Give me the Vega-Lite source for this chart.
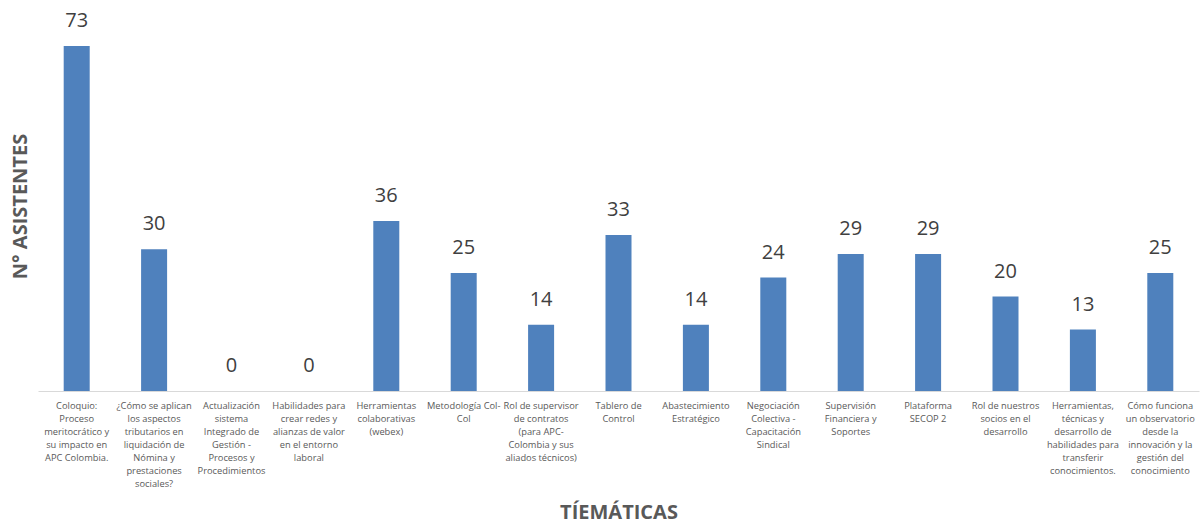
{
  "$schema": "https://vega.github.io/schema/vega-lite/v6.json",
  "width": 1161,
  "height": 378,
  "autosize": "none",
  "padding": {"left": 38, "top": 13, "right": 2, "bottom": 132},
  "background": "white",
  "config": {"view": {"stroke": null}, "font": "Open Sans"},
  "data": {
    "values": [
      {"tema": "Coloquio:|Proceso|meritocrático y|su impacto en|APC Colombia.", "asistentes": 73},
      {"tema": "¿Cómo se aplican|los aspectos|tributarios en|liquidación de|Nómina y|prestaciones|sociales?", "asistentes": 30},
      {"tema": "Actualización|sistema|Integrado de|Gestión -|Procesos y|Procedimientos", "asistentes": 0},
      {"tema": "Habilidades para|crear redes y|alianzas de valor|en el entorno|laboral", "asistentes": 0},
      {"tema": "Herramientas|colaborativas|(webex)", "asistentes": 36},
      {"tema": "Metodología Col-|Col", "asistentes": 25},
      {"tema": "Rol de supervisor|de contratos|(para APC-|Colombia y sus|aliados técnicos)", "asistentes": 14},
      {"tema": "Tablero de|Control", "asistentes": 33},
      {"tema": "Abastecimiento|Estratégico", "asistentes": 14},
      {"tema": "Negociación|Colectiva -|Capacitación|Sindical", "asistentes": 24},
      {"tema": "Supervisión|Financiera y|Soportes", "asistentes": 29},
      {"tema": "Plataforma|SECOP 2", "asistentes": 29},
      {"tema": "Rol de nuestros|socios en el|desarrollo", "asistentes": 20},
      {"tema": "Herramientas,|técnicas y|desarrollo de|habilidades para|transferir|conocimientos.", "asistentes": 13},
      {"tema": "Cómo funciona|un observatorio|desde la|innovación y la|gestión del|conocimiento", "asistentes": 25}
    ]
  },
  "encoding": {
    "x": {
      "field": "tema",
      "type": "nominal",
      "sort": null,
      "scale": {"paddingInner": 0.664, "paddingOuter": 0.332},
      "axis": {
        "title": "TÍEMÁTICAS",
        "titleFont": "Open Sans",
        "titleFontSize": 20,
        "titleFontWeight": "bold",
        "titleColor": "#595959",
        "titleAnchor": "middle",
        "titleBaseline": "alphabetic",
        "titleY": 127,
        "labelAngle": 0,
        "labelExpr": "split(datum.value, '|')",
        "labelFontSize": 9.3,
        "labelFont": "Open Sans",
        "labelColor": "#595959",
        "labelLineHeight": 13,
        "labelPadding": 10,
        "labelBaseline": "top",
        "labelLimit": 0,
        "ticks": false,
        "domainColor": "#d9d9d9",
        "domainWidth": 1,
        "grid": false
      }
    },
    "y": {
      "field": "asistentes",
      "type": "quantitative",
      "scale": {"domain": [0, 80], "nice": false},
      "axis": {
        "title": "N° ASISTENTES",
        "titleFont": "Open Sans",
        "titleFontSize": 20,
        "titleFontWeight": "bold",
        "titleColor": "#595959",
        "titleX": -18,
        "titleY": 193,
        "titleBaseline": "middle",
        "labels": false,
        "ticks": false,
        "domain": false,
        "grid": false
      }
    }
  },
  "layer": [
    {"mark": {"type": "bar", "color": "#4f81bd"}},
    {
      "mark": {"type": "text", "baseline": "middle", "dy": -25, "fontSize": 20, "color": "#404040", "font": "Open Sans"},
      "encoding": {"text": {"field": "asistentes", "type": "quantitative"}}
    }
  ]
}
